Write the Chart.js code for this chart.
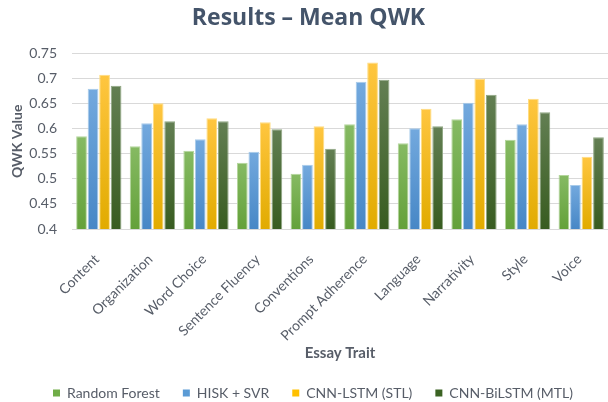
<!DOCTYPE html>
<html>
<head>
<meta charset="utf-8">
<script src="https://cdn.jsdelivr.net/npm/chart.js@4"></script>
<style>
  html, body { margin: 0; padding: 0; background: #fff; }
  #wrap { width: 608px; height: 402px; position: relative; }
</style>
</head>
<body>
<div id="wrap"><canvas id="qwkChart" width="608" height="402"></canvas></div>
<script>
const traits = ['Content', 'Organization', 'Word Choice', 'Sentence Fluency', 'Conventions',
    'Prompt Adherence', 'Language', 'Narrativity', 'Style', 'Voice'];

const randomForest = [0.585, 0.565, 0.556, 0.532, 0.510, 0.609, 0.571, 0.619, 0.578, 0.508];
const hiskSvr      = [0.680, 0.611, 0.579, 0.554, 0.528, 0.694, 0.601, 0.652, 0.609, 0.488];
const cnnLstmStl   = [0.708, 0.651, 0.621, 0.613, 0.605, 0.732, 0.640, 0.700, 0.660, 0.544];
const cnnBilstmMtl = [0.686, 0.615, 0.615, 0.599, 0.560, 0.698, 0.605, 0.668, 0.633, 0.583];

const yTicks = [0.4, 0.45, 0.5, 0.55, 0.6, 0.65, 0.7, 0.75];

const TITLE_FONT = "'Open Sans', 'DejaVu Sans', sans-serif";
const FONT = "Lato, 'Open Sans', sans-serif";
const GREY = '#575d68';

// per-bar vertical gradient, lighter at the top
const barFill = (top, bottom) => (ctx) => {
    const chart = ctx.chart;
    const area = chart.chartArea;
    if (!area || ctx.parsed === undefined) return bottom;
    const yTop = chart.scales.y.getPixelForValue(ctx.parsed.y);
    const g = chart.ctx.createLinearGradient(0, yTop, 0, area.bottom);
    g.addColorStop(0, top);
    g.addColorStop(1, bottom);
    return g;
};

const makeSet = (label, data, top, bottom, border, legendColor) => ({
    label: label,
    data: data,
    backgroundColor: barFill(top, bottom),
    borderColor: border,
    borderWidth: 1,
    borderSkipped: false,
    categoryPercentage: 0.86,
    barPercentage: 0.93,
    legendColor: legendColor
});

// the legend sits a bit left of centre and low in the original
const legendShift = {
    id: 'legendShift',
    afterLayout: (chart) => {
        const lg = chart.legend;
        if (!lg) return;
        const pad = lg.options.labels.padding;
        lg.left = 53 - pad;
        lg.top = 386 - pad;
    }
};

const ctx = document.getElementById('qwkChart').getContext('2d');
new Chart(ctx, {
    type: 'bar',
    data: {
        labels: traits,
        datasets: [
            makeSet('Random Forest', randomForest, '#86ba63', '#64a13a', '#b4d69c', '#70ad47'),
            makeSet('HISK + SVR', hiskSvr, '#73a9de', '#4787c6', '#a8cbea', '#5b9bd5'),
            makeSet('CNN-LSTM (STL)', cnnLstmStl, '#ffc640', '#e1ab00', '#ffdc80', '#ffc000'),
            makeSet('CNN-BiLSTM (MTL)', cnnBilstmMtl, '#637f53', '#385c20', '#8fa682', '#3b6323')
        ]
    },
    plugins: [legendShift],
    options: {
        responsive: false,
        animation: false,
        layout: { padding: { left: 9, right: 0, top: 2, bottom: 0 } },
        plugins: {
            title: {
                display: true,
                text: 'Results \u2013 Mean QWK',
                color: '#44546a',
                font: { family: TITLE_FONT, size: 23, weight: 'bold' },
                padding: { top: 3, bottom: 21 }
            },
            legend: {
                position: 'bottom',
                align: 'start',
                maxHeight: 24,
                labels: {
                    color: GREY,
                    font: { family: FONT, size: 14 },
                    boxWidth: 7,
                    boxHeight: 7,
                    padding: 23,
                    generateLabels: (chart) => chart.data.datasets.map((ds, i) => ({
                        text: ds.label,
                        fillStyle: ds.legendColor,
                        strokeStyle: ds.legendColor,
                        lineWidth: 0,
                        fontColor: GREY,
                        datasetIndex: i
                    }))
                }
            },
            tooltip: { enabled: false }
        },
        scales: {
            x: {
                grid: { display: false },
                border: { display: true, color: '#d9d9d9' },
                afterFit: (scale) => { scale.height = 149; },
                ticks: {
                    color: GREY,
                    font: { family: FONT, size: 14 },
                    maxRotation: 45,
                    minRotation: 45,
                    labelOffset: -2,
                    padding: 14
                },
                title: {
                    display: true,
                    text: 'Essay Trait',
                    color: GREY,
                    font: { family: FONT, size: 15, weight: 'bold' },
                    padding: { top: 0, bottom: 16 }
                }
            },
            y: {
                min: yTicks[0],
                max: yTicks[yTicks.length - 1],
                afterBuildTicks: (axis) => { axis.ticks = yTicks.map(v => ({ value: v })); },
                afterFit: (scale) => { scale.width = 63; },
                grid: { color: '#d9d9d9', drawTicks: false },
                border: { display: false },
                ticks: {
                    color: GREY,
                    font: { family: FONT, size: 14 },
                    padding: 15,
                    callback: (v) => String(Number(v.toFixed(2)))
                },
                title: {
                    display: true,
                    text: 'QWK Value',
                    color: GREY,
                    font: { family: FONT, size: 14, weight: 'bold' },
                    padding: { top: 0, bottom: 4 }
                }
            }
        }
    }
});
</script>
</body>
</html>
